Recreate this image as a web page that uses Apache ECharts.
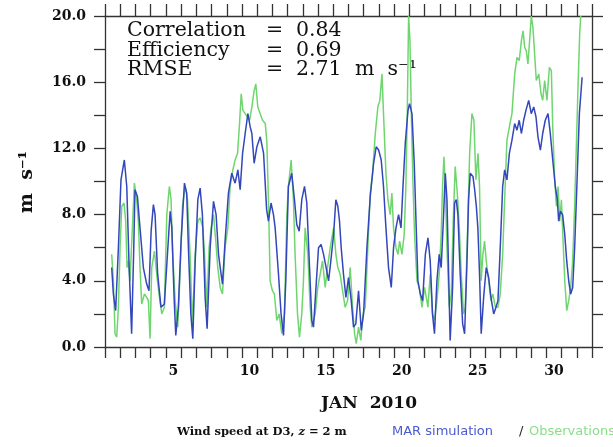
<!DOCTYPE html>
<html>
<head>
<meta charset="utf-8">
<script src="https://cdn.jsdelivr.net/npm/echarts@6/dist/echarts.min.js"></script>
<style>
  html, body { margin: 0; padding: 0; background: #fff; }
  #chart { width: 613px; height: 447px; }
</style>
</head>
<body>
<div id="chart"></div>
<script>
// days since 1 Jan 2010 00:00, wind speed in m/s
const simDays = [0.44, 0.55, 0.70, 0.88, 1.05, 1.27, 1.43, 1.58, 1.75, 1.89, 1.97, 2.13, 2.30, 2.52, 2.74, 2.89, 3.03, 3.18, 3.29, 3.46, 3.68, 3.90, 4.28, 4.39, 4.54, 4.65, 4.82, 5.00, 5.22, 5.37, 5.48, 5.64, 5.77, 5.92, 6.10, 6.25, 6.40, 6.58, 6.71, 6.91, 7.13, 7.30, 7.46, 7.57, 7.72, 7.89, 8.11, 8.33, 8.55, 8.73, 8.88, 9.04, 9.21, 9.39, 9.54, 9.65, 9.80, 9.98, 10.20, 10.42, 10.62, 10.74, 10.91, 11.07, 11.18, 11.40, 11.57, 11.73, 11.88, 12.05, 12.27, 12.45, 12.60, 12.76, 12.93, 13.11, 13.26, 13.44, 13.59, 13.70, 13.85, 14.03, 14.20, 14.36, 14.53, 14.69, 14.84, 15.02, 15.17, 15.30, 15.41, 15.52, 15.67, 15.83, 16.00, 16.18, 16.33, 16.48, 16.66, 16.84, 16.99, 17.21, 17.43, 17.65, 17.82, 17.98, 18.15, 18.30, 18.46, 18.63, 18.81, 18.96, 19.12, 19.29, 19.45, 19.58, 19.73, 19.91, 20.01, 20.17, 20.32, 20.45, 20.56, 20.72, 20.87, 21.05, 21.22, 21.37, 21.52, 21.65, 21.81, 21.96, 22.09, 22.25, 22.36, 22.47, 22.58, 22.68, 22.84, 22.97, 23.08, 23.19, 23.34, 23.50, 23.63, 23.78, 23.89, 24.00, 24.18, 24.29, 24.40, 24.50, 24.61, 24.72, 24.88, 25.05, 25.21, 25.36, 25.54, 25.69, 25.82, 25.97, 26.13, 26.26, 26.41, 26.57, 26.74, 26.92, 27.07, 27.22, 27.36, 27.51, 27.66, 27.84, 28.01, 28.17, 28.32, 28.45, 28.61, 28.76, 28.93, 29.11, 29.26, 29.42, 29.59, 29.72, 29.81, 29.92, 30.07, 30.21, 30.34, 30.47, 30.60, 30.73, 30.86, 31.02, 31.17, 31.35]
const simSpeed = [4.8, 3.2, 2.2, 6.0, 10.1, 11.3, 9.7, 5.0, 0.8, 6.0, 9.5, 9.1, 7.2, 4.8, 3.8, 3.4, 7.0, 8.6, 8.0, 4.4, 2.4, 2.6, 8.2, 7.2, 3.0, 0.7, 2.4, 6.4, 9.9, 9.3, 6.0, 2.0, 0.5, 5.0, 8.9, 9.6, 8.0, 3.0, 1.1, 6.0, 8.8, 8.0, 5.6, 4.8, 3.8, 6.4, 9.3, 10.5, 9.9, 10.7, 9.5, 11.7, 12.9, 14.1, 13.3, 12.9, 11.1, 12.1, 12.7, 11.7, 8.3, 7.6, 8.7, 8.0, 7.2, 4.4, 2.0, 0.7, 4.0, 9.7, 10.5, 8.9, 7.4, 7.0, 8.9, 9.7, 8.7, 4.8, 1.6, 1.2, 3.4, 6.0, 6.2, 5.6, 4.8, 4.0, 5.2, 6.8, 8.9, 8.5, 7.6, 6.0, 4.4, 3.0, 4.2, 2.8, 1.2, 1.4, 3.4, 1.0, 2.0, 6.0, 9.1, 11.1, 12.1, 11.9, 11.3, 9.7, 7.2, 4.8, 3.6, 6.0, 7.2, 8.0, 7.2, 9.7, 12.3, 14.3, 14.7, 14.1, 11.1, 7.2, 4.0, 3.2, 2.8, 5.6, 6.6, 5.2, 2.0, 0.8, 4.0, 5.6, 4.8, 8.0, 10.5, 8.9, 4.4, 0.4, 3.6, 8.7, 8.9, 8.0, 4.4, 1.4, 0.8, 5.0, 8.9, 10.5, 10.3, 9.5, 8.5, 7.2, 4.4, 0.8, 3.0, 4.8, 4.2, 3.0, 2.0, 2.4, 2.8, 6.0, 9.7, 10.7, 10.1, 11.7, 12.5, 13.5, 13.1, 13.7, 12.9, 13.7, 14.3, 14.9, 14.1, 14.5, 13.9, 12.7, 11.9, 12.9, 13.7, 14.1, 12.9, 11.3, 9.7, 8.9, 7.6, 8.2, 8.0, 6.8, 5.2, 4.0, 3.2, 3.6, 6.0, 10.1, 14.1, 16.3]

const obsDays = [0.44, 0.55, 0.66, 0.77, 0.88, 0.99, 1.10, 1.25, 1.36, 1.45, 1.54, 1.64, 1.80, 1.93, 2.08, 2.19, 2.30, 2.41, 2.59, 2.74, 2.85, 2.96, 3.07, 3.25, 3.40, 3.55, 3.73, 3.90, 4.06, 4.23, 4.34, 4.45, 4.61, 4.78, 4.93, 5.09, 5.26, 5.42, 5.59, 5.75, 5.92, 6.10, 6.25, 6.43, 6.54, 6.69, 6.84, 6.97, 7.13, 7.28, 7.41, 7.57, 7.72, 7.89, 8.07, 8.22, 8.40, 8.55, 8.71, 8.84, 8.95, 9.06, 9.21, 9.36, 9.50, 9.65, 9.80, 9.91, 10.04, 10.20, 10.35, 10.53, 10.63, 10.74, 10.85, 11.00, 11.13, 11.29, 11.44, 11.62, 11.79, 11.95, 12.05, 12.23, 12.38, 12.49, 12.65, 12.78, 12.93, 13.04, 13.15, 13.33, 13.48, 13.59, 13.81, 13.98, 14.14, 14.29, 14.47, 14.62, 14.80, 15.02, 15.17, 15.30, 15.45, 15.61, 15.78, 15.94, 16.11, 16.27, 16.40, 16.51, 16.66, 16.81, 16.95, 17.10, 17.27, 17.43, 17.58, 17.76, 17.93, 18.06, 18.20, 18.30, 18.46, 18.59, 18.74, 18.85, 18.96, 19.12, 19.25, 19.36, 19.51, 19.66, 19.77, 19.86, 19.95, 20.04, 20.13, 20.23, 20.34, 20.50, 20.65, 20.83, 21.00, 21.22, 21.37, 21.52, 21.65, 21.81, 21.96, 22.09, 22.18, 22.27, 22.36, 22.47, 22.62, 22.75, 22.88, 23.01, 23.15, 23.28, 23.41, 23.56, 23.67, 23.83, 23.96, 24.11, 24.24, 24.37, 24.51, 24.61, 24.72, 24.83, 24.94, 25.05, 25.21, 25.36, 25.49, 25.65, 25.82, 25.97, 26.13, 26.26, 26.41, 26.57, 26.74, 26.92, 27.07, 27.22, 27.36, 27.47, 27.58, 27.68, 27.79, 27.93, 28.01, 28.12, 28.23, 28.34, 28.50, 28.65, 28.76, 28.89, 29.04, 29.20, 29.33, 29.42, 29.55, 29.66, 29.77, 29.88, 29.99, 30.10, 30.21, 30.34, 30.47, 30.60, 30.73, 30.86, 30.97, 31.08, 31.19, 31.26]
const obsSpeed = [5.6, 4.0, 0.8, 0.6, 2.4, 6.0, 8.5, 8.7, 7.6, 4.8, 5.2, 4.0, 7.2, 9.9, 8.9, 7.6, 4.8, 2.6, 3.2, 3.0, 2.8, 0.5, 4.8, 5.8, 4.4, 3.2, 2.0, 2.4, 8.0, 9.7, 8.9, 5.6, 2.8, 1.2, 4.4, 8.5, 9.7, 8.9, 5.6, 1.2, 5.6, 7.6, 7.8, 7.2, 5.6, 2.4, 6.0, 7.2, 8.0, 6.4, 4.8, 3.6, 3.2, 6.0, 7.2, 9.7, 10.7, 11.3, 11.7, 13.5, 15.3, 14.3, 14.1, 13.9, 13.7, 14.5, 15.5, 15.9, 14.5, 14.1, 13.7, 13.5, 12.5, 8.9, 4.0, 3.4, 3.2, 1.6, 2.0, 0.8, 2.0, 8.0, 9.7, 11.3, 8.9, 5.6, 2.0, 0.6, 2.0, 4.0, 7.2, 5.6, 2.4, 1.2, 2.0, 3.6, 4.4, 5.2, 3.6, 4.8, 6.0, 7.2, 5.6, 4.8, 4.4, 3.4, 2.4, 2.8, 4.8, 2.4, 0.8, 0.2, 1.2, 0.4, 2.0, 2.4, 6.0, 9.3, 10.5, 12.9, 14.5, 14.9, 16.5, 14.1, 10.5, 8.9, 8.0, 9.3, 7.2, 6.0, 5.6, 6.4, 5.6, 6.8, 9.7, 14.1, 20.0, 18.5, 14.1, 10.1, 6.8, 4.0, 3.6, 2.4, 3.6, 2.4, 4.4, 2.0, 1.6, 2.8, 4.4, 6.8, 9.7, 11.5, 9.7, 6.0, 2.4, 3.2, 7.6, 10.9, 9.3, 7.2, 4.4, 2.0, 2.4, 7.2, 11.7, 14.1, 13.7, 10.1, 11.7, 9.7, 4.0, 5.6, 6.4, 5.2, 4.0, 2.8, 3.2, 2.4, 2.4, 3.2, 5.6, 8.9, 12.5, 13.3, 14.1, 16.5, 17.5, 17.3, 18.5, 19.1, 18.1, 17.9, 17.1, 18.9, 20.0, 19.3, 17.7, 16.1, 16.5, 15.3, 14.9, 16.1, 14.9, 16.9, 16.7, 13.3, 10.1, 8.5, 9.7, 7.6, 8.9, 6.4, 4.0, 2.2, 2.8, 3.6, 5.2, 8.5, 12.1, 15.7, 18.9, 20.0]

const dayLabels = [5, 10, 15, 20, 25, 30]
const stats = [
  ['Correlation', '0.84'],
  ['Efficiency', '0.69'],
  ['RMSE', '2.71']
]

const SERIF = '"DejaVu Serif", serif'
const SANS = '"DejaVu Sans", sans-serif'
const axisColor = '#333'
const simColor = '#3346bb'
const obsColor = '#6fd66f'

const zip = (xs, ys) => xs.map((x, i) => [x, ys[i]])
const tickDays = []
for (let d = 0; d <= 32; d++) tickDays.push(d)

const lineStyle = { color: axisColor, width: 1.3 }

const chart = echarts.init(document.getElementById('chart'))

const statTexts = []
stats.forEach((row, i) => {
  const y = 31 + i * 19.5
  statTexts.push({ type: 'text', x: 127, y: y, style: { text: row[0], fontFamily: SERIF, fontSize: 20.5, fill: '#111', verticalAlign: 'middle' } })
  statTexts.push({ type: 'text', x: 266, y: y, style: { text: '=', fontFamily: SERIF, fontSize: 20.5, fill: '#111', verticalAlign: 'middle' } })
  statTexts.push({ type: 'text', x: 296, y: y, style: { text: row[1], fontFamily: SERIF, fontSize: 20.5, fill: '#111', verticalAlign: 'middle' } })
})
statTexts.push({ type: 'text', x: 355, y: 31 + 2 * 19.5, style: { text: 'm  s⁻¹', fontFamily: SERIF, fontSize: 20.5, fill: '#111', verticalAlign: 'middle' } })

const option = {
  animation: false,
  backgroundColor: '#fff',
  grid: { left: 105, right: 21, top: 16, bottom: 100, outerBoundsMode: 'none' },
  xAxis: [
    {
      type: 'value', min: 0, max: 32, interval: 1, position: 'bottom',
      axisLine: { show: true, onZero: false, lineStyle },
      axisTick: { show: true, inside: false, length: 11, customValues: tickDays, lineStyle },
      axisLabel: {
        customValues: dayLabels.map(d => d - 0.5),
        formatter: v => String(Math.round(v + 0.5)),
        margin: 17, color: '#111', fontFamily: SERIF, fontWeight: 'bold', fontSize: 14
      },
      splitLine: { show: false }
    },
    {
      type: 'value', min: 0, max: 32, interval: 1, position: 'top',
      axisLine: { show: true, onZero: false, lineStyle },
      axisTick: { show: true, inside: false, length: 12, customValues: tickDays, lineStyle },
      axisLabel: { show: false },
      splitLine: { show: false }
    }
  ],
  yAxis: [
    {
      type: 'value', min: 0, max: 20, interval: 4, position: 'left',
      axisLine: { show: true, onZero: false, lineStyle },
      axisTick: { show: true, inside: false, length: 11, lineStyle },
      minorTick: { show: true, splitNumber: 2, length: 11, lineStyle },
      axisLabel: {
        formatter: v => v.toFixed(1), margin: 19,
        color: '#111', fontFamily: SERIF, fontWeight: 'bold', fontSize: 14
      },
      splitLine: { show: false },
      minorSplitLine: { show: false }
    },
    {
      type: 'value', min: 0, max: 20, interval: 2, position: 'right',
      axisLine: { show: true, onZero: false, lineStyle },
      axisTick: { show: true, inside: false, length: 11, lineStyle },
      axisLabel: { show: false },
      splitLine: { show: false }
    }
  ],
  series: [
    {
      name: 'Observations', type: 'line', data: zip(obsDays, obsSpeed),
      showSymbol: false, lineStyle: { color: obsColor, width: 1.5 }, z: 2
    },
    {
      name: 'MAR simulation', type: 'line', data: zip(simDays, simSpeed),
      showSymbol: false, lineStyle: { color: simColor, width: 1.5 }, z: 3
    }
  ],
  graphic: [
    ...statTexts,
    {
      type: 'text', x: 27, y: 182, rotation: Math.PI / 2,
      style: { text: 'm  s⁻¹', fontFamily: SERIF, fontWeight: 'bold', fontSize: 19, fill: '#111', align: 'center', verticalAlign: 'middle' }
    },
    {
      type: 'text', x: 369, y: 404,
      style: { text: 'JAN  2010', fontFamily: SERIF, fontWeight: 'bold', fontSize: 17, fill: '#111', align: 'center', verticalAlign: 'middle' }
    },
    {
      type: 'text', x: 177, y: 432,
      style: {
        text: '{b|Wind speed at D3, }{i|z}{b| = 2 m}',
        verticalAlign: 'middle',
        rich: {
          b: { fontFamily: SERIF, fontWeight: 'bold', fontSize: 11.5, fill: '#111' },
          i: { fontFamily: SERIF, fontStyle: 'italic', fontWeight: 'bold', fontSize: 11.5, fill: '#111' }
        }
      }
    },
    { type: 'text', x: 392, y: 432, style: { text: 'MAR simulation', fontFamily: SANS, fontSize: 13, fill: '#4a5ad0', verticalAlign: 'middle' } },
    { type: 'text', x: 519, y: 432, style: { text: '/', fontFamily: SANS, fontSize: 13, fill: '#222', verticalAlign: 'middle' } },
    { type: 'text', x: 529, y: 432, style: { text: 'Observations', fontFamily: SANS, fontSize: 13, fill: '#8ade8a', verticalAlign: 'middle' } }
  ]
}

chart.setOption(option)
</script>
</body>
</html>
